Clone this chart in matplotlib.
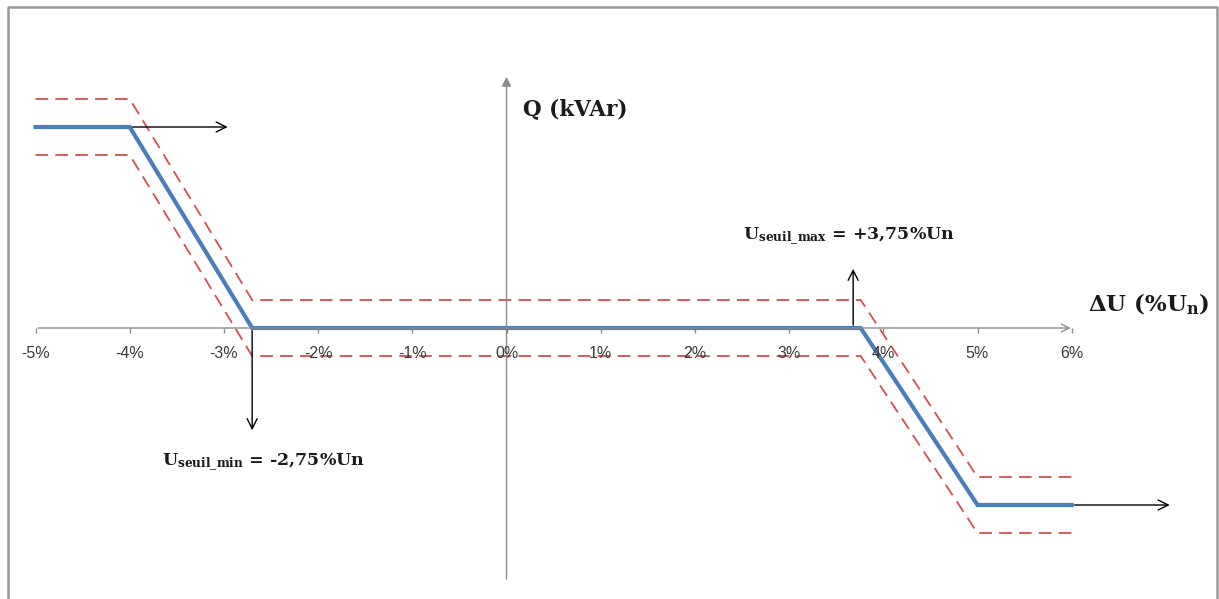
import matplotlib.pyplot as plt
from matplotlib.lines import Line2D

# characteristic Q(U) (x in %Un, Q in arbitrary units)
u_pts = [-5.0, -4.0, -2.7, 3.76, 5.0, 6.0]
q_pts = [2.01, 2.01, 0.0, 0.0, -1.77, -1.77]
band = 0.28  # half width of the red dashed tolerance band

tick_pos = [-5, -4, -3, -2, -1, 0, 1, 2, 3, 4, 5, 6]
tick_labels = ['-5%', '-4%', '-3%', '-2%', '-1%', '0%', '1%', '2%', '3%', '4%', '5%', '6%']

u_min_label = r'$\mathbf{U_{seuil\_min}}$ = -2,75%Un'
u_max_label = r'$\mathbf{U_{seuil\_max}}$ = +3,75%Un'

plt.rcParams['mathtext.fontset'] = 'dejavuserif'

fig = plt.figure(figsize=(12.19, 5.99), dpi=100)
ax = fig.add_axes([0, 0, 1, 1])
# pixel mapping: 0% at x=506.5 px, 94.2 px per %, Q=0 at y=328 px, 100 px per unit
ax.set_xlim(-506.5 / 94.2, (1219 - 506.5) / 94.2)
ax.set_ylim((328 - 599) / 100, 328 / 100)
ax.axis('off')

axis_col = '#8c8c8c'
# x axis with arrow
ax.annotate('', xy=(6.02, 0), xytext=(-5.0, 0),
            arrowprops=dict(arrowstyle='->', color=axis_col, lw=1.0, mutation_scale=14))
# y axis with arrow
ax.annotate('', xy=(0, 2.54), xytext=(0, -2.54),
            arrowprops=dict(arrowstyle='-|>', color=axis_col, lw=1.0, mutation_scale=14))
ax.vlines(tick_pos, -0.05, 0, color=axis_col, lw=1.0)
for p, lab in zip(tick_pos, tick_labels):
    ax.text(p, -0.25, lab, ha='center', va='center', fontsize=11.5,
            family='Liberation Sans', color='#3a3a3a')

# tolerance band
ax.plot(u_pts, [q + band for q in q_pts], color='#d0504d', lw=1.3, ls=(0, (7, 4)))
ax.plot(u_pts, [q - band for q in q_pts], color='#d0504d', lw=1.3, ls=(0, (7, 4)))
# main characteristic
ax.plot(u_pts, q_pts, color='#4a7ebb', lw=3, solid_joinstyle='miter')

arrow = dict(arrowstyle='->', color='black', lw=1.0, mutation_scale=18)
ax.annotate('', xy=(-2.93, q_pts[0]), xytext=(u_pts[1], q_pts[0]), arrowprops=arrow)
ax.annotate('', xy=(u_pts[2], -1.05), xytext=(u_pts[2], 0), arrowprops=arrow)
ax.annotate('', xy=(3.68, 0.62), xytext=(3.68, 0), arrowprops=arrow)
ax.annotate('', xy=(7.07, q_pts[-1]), xytext=(u_pts[-1], q_pts[-1]), arrowprops=arrow)

txt = dict(family='DejaVu Serif', weight='bold', color='#1a1a1a')
ax.text(0.18, 2.13, 'Q (kVAr)', fontsize=15.5, ha='left', va='baseline', **txt)
ax.text(6.17, 0.17, r'ΔU (%U$_\mathbf{n}$)', fontsize=16.5, ha='left', va='baseline', **txt)
ax.text(2.51, 0.89, u_max_label, fontsize=12.5, ha='left', va='baseline', **txt)
ax.text(-3.66, -1.37, u_min_label, fontsize=12.5, ha='left', va='baseline', **txt)

# outer frame (left, top, right)
W, H = 1219, 599
frame_x = [8 / W, 8 / W, 1217 / W, 1217 / W]
frame_y = [0, 1 - 7 / H, 1 - 7 / H, 0]
fig.add_artist(Line2D(frame_x, frame_y, color='#999999', lw=1.8, transform=fig.transFigure))

fig.savefig('out.png', dpi=100)
